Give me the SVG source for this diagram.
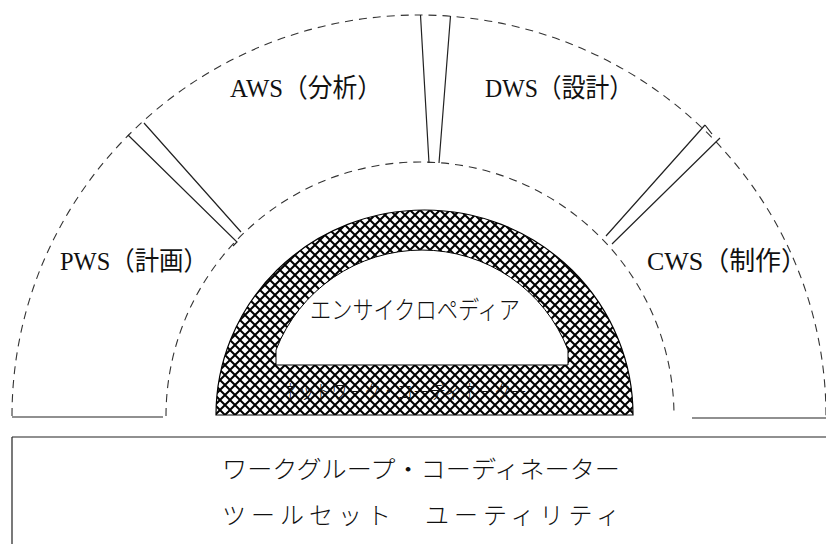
<svg xmlns="http://www.w3.org/2000/svg" width="826" height="544" viewBox="0 0 826 544">
<style>
.dash{fill:none;stroke:#333;stroke-width:1.1;stroke-dasharray:8 6}
.ln{fill:none;stroke:#222;stroke-width:1.2}
.lbl{font-family:"Liberation Serif","Noto Sans CJK JP",serif;font-size:26px;fill:#111}
.kt{font-family:"Noto Sans CJK JP","Noto Sans CJK SC",sans-serif;fill:#111;font-weight:300}
</style>
<defs>
<pattern id="hatch" width="10" height="10" patternUnits="userSpaceOnUse">
<rect width="10" height="10" fill="#fff"/>
<path d="M-1 -1 L11 11 M11 -1 L-1 11" stroke="#000" stroke-width="2"/>
</pattern>
</defs>
<rect width="826" height="544" fill="#fff"/>
<g id="rings">
<path class="dash" d="M12 416 A407 401 0 0 1 826 416"/>
<path class="dash" d="M166 416 A254 254 0 0 1 674 416"/>
<path class="ln" d="M12 417 L163 417 M692 418 L826 418"/>
</g>
<g id="connectors">
<path class="ln" d="M420.5 15 L429 163 M450.5 16 L439 163"/>
<path class="ln" d="M128 135 L237 242 L233 246 M144 123 L241 232"/>
<path class="ln" d="M705 125 L606 236 M720 138 L612 244 M705 125 L712 134"/>
</g>
<g id="pws"><text class="lbl" x="60" y="270" textLength="148" lengthAdjust="spacingAndGlyphs">PWS（計画）</text></g>
<g id="aws"><text class="lbl" x="230" y="97" textLength="152" lengthAdjust="spacingAndGlyphs">AWS（分析）</text></g>
<g id="dws"><text class="lbl" x="485" y="97" textLength="148" lengthAdjust="spacingAndGlyphs">DWS（設計）</text></g>
<g id="cws"><text class="lbl" x="647" y="270" textLength="160" lengthAdjust="spacingAndGlyphs">CWS（制作）</text></g>
<g id="encyclopedia">
<path d="M216 415 A208.5 205 0 0 1 633 415 Z" fill="url(#hatch)" stroke="#000" stroke-width="1.2"/>
<path d="M276 365 L276 350 A156.6 156.6 0 0 1 568 350 L568 365 Z" fill="#fff" stroke="#000" stroke-width="1"/>
<text class="kt" x="310" y="319" font-size="25" textLength="210" lengthAdjust="spacingAndGlyphs">エンサイクロペディア</text>
<text class="kt" x="282" y="399" font-size="19" textLength="245" lengthAdjust="spacingAndGlyphs" fill="#000">ネットワーク・コーディネーター</text>
</g>
<g id="toolbox">
<path class="ln" d="M12 437 L826 437 M12 437 L12 544" stroke-width="1.6"/>
<text class="kt" x="222" y="478" font-size="24" textLength="398" lengthAdjust="spacingAndGlyphs">ワークグループ・コーディネーター</text>
<text class="kt" x="222" y="524" font-size="24" textLength="398" lengthAdjust="spacing">ツールセット　ユーティリティ</text>
</g>
</svg>
